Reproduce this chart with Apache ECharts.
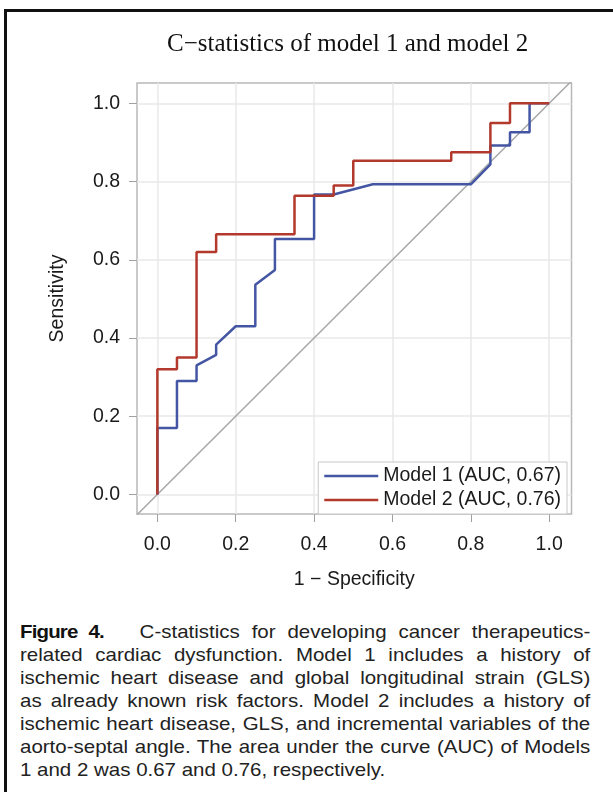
<!DOCTYPE html>
<html>
<head>
<meta charset="utf-8">
<script src="https://cdn.jsdelivr.net/npm/echarts@6/dist/echarts.min.js"></script>
<style>
  html, body { margin: 0; padding: 0; background: #fff; }
  #wrap { position: relative; width: 613px; height: 792px; overflow: hidden; }
  #chart { position: absolute; left: 0; top: 0; width: 613px; height: 600px; }
  /* 外框 */
  #frame { position: absolute; left: 4px; top: 9px; width: 640px; height: 820px;
           border-left: 3px solid #111; border-top: 3px solid #111; }
  #caption { position: absolute; left: 20px; top: 620px; width: 529px;
             transform: scaleX(1.078); transform-origin: 0 0;
             font-family: "Liberation Sans", Arial, sans-serif; font-weight: normal;
             font-size: 19px; line-height: 23px; color: #222; }
  #caption div { text-align: justify; text-align-last: justify; white-space: nowrap; }
  #caption div.last { text-align-last: left; }
  #caption b { font-weight: 700; letter-spacing: -0.8px; color: #111; }
</style>
</head>
<body>
<div id="wrap">
  <div id="frame"></div>
  <div id="chart"></div>
  <div id="caption">
    <div><b>Figure 4.</b>&nbsp;&nbsp; C-statistics for developing cancer therapeutics-</div>
    <div>related cardiac dysfunction. Model 1 includes a history of</div>
    <div>ischemic heart disease and global longitudinal strain (GLS)</div>
    <div>as already known risk factors. Model 2 includes a history of</div>
    <div>ischemic heart disease, GLS, and incremental variables of the</div>
    <div>aorto-septal angle. The area under the curve (AUC) of Models</div>
    <div class="last">1 and 2 was 0.67 and 0.76, respectively.</div>
  </div>
</div>
<script>
"use strict";

// 刻度
let tickValues = [0, 0.2, 0.4, 0.6, 0.8, 1.0];

// Model 1 (1 - 特异度, 灵敏度)
let model1Fpr = [0, 0, 0.05, 0.05, 0.1, 0.1, 0.15, 0.15, 0.2, 0.25, 0.25, 0.3, 0.3, 0.4, 0.4, 0.45, 0.55, 0.8, 0.85, 0.85, 0.9, 0.9, 0.95, 0.95, 1.0];
let model1Tpr = [0, 0.17, 0.17, 0.29, 0.29, 0.33, 0.357, 0.383, 0.43, 0.43, 0.536, 0.574, 0.653, 0.653, 0.767, 0.767, 0.793, 0.793, 0.844, 0.892, 0.892, 0.926, 0.926, 1.0, 1.0];

// Model 2
let model2Fpr = [0, 0, 0.05, 0.05, 0.1, 0.1, 0.15, 0.15, 0.35, 0.35, 0.45, 0.45, 0.5, 0.5, 0.75, 0.75, 0.85, 0.85, 0.9, 0.9, 1.0];
let model2Tpr = [0, 0.32, 0.32, 0.35, 0.35, 0.62, 0.62, 0.665, 0.665, 0.764, 0.764, 0.79, 0.79, 0.853, 0.853, 0.875, 0.875, 0.95, 0.95, 1.0, 1.0];

// 参考线 (对角线)
let diagX = [-0.052, 1.057];
let diagY = [-0.052, 1.057];

function zip(xs, ys) {
    return xs.map(function (x, i) { return [x, ys[i]]; });
}

let myChart = echarts.init(document.getElementById('chart'));

let labelFont = {
    fontFamily: 'Liberation Sans, Arial, sans-serif',
    fontSize: 19.5,
    color: '#1a1a1a',
};

let option = {
    animation: false,
    title: {
        text: 'C\u2212statistics of model 1 and model 2',
        left: 162,
        top: 27,
        textStyle: {
            fontFamily: 'Liberation Serif, Times New Roman, serif',
            fontWeight: 'normal',
            fontSize: 25,
            color: '#111',
        },
    },
    legend: {
        data: ['Model 1 (AUC, 0.67)', 'Model 2 (AUC, 0.76)'],
        orient: 'vertical',
        right: 46,
        top: 462,
        padding: [4, 6, 4, 6],
        itemGap: 4,
        itemWidth: 54,
        itemHeight: 2.5,
        icon: 'rect',
        borderColor: '#c8c8c8',
        borderWidth: 1,
        backgroundColor: '#fff',
        textStyle: labelFont,
    },
    grid: {
        left: 137,
        top: 83,
        width: 434.5,
        height: 431,
        show: true,
        borderColor: '#b8b8b8',
        borderWidth: 1.5,
    },
    xAxis: {
        type: 'value',
        min: -0.052,
        max: 1.057,
        name: '1 \u2212 Specificity',
        nameLocation: 'middle',
        nameGap: 56,
        nameTextStyle: labelFont,
        axisLine: { show: false, onZero: false },
        axisTick: {
            show: true,
            length: 8,
            customValues: tickValues,
            lineStyle: { color: '#a0a0a0' },
        },
        axisLabel: Object.assign({
            margin: 21,
            customValues: tickValues,
            formatter: function (v) { return v.toFixed(1); },
        }, labelFont),
        splitLine: { show: true, lineStyle: { color: '#e8e8e8', width: 1.5 } },
    },
    yAxis: {
        type: 'value',
        min: -0.05,
        max: 1.052,
        name: 'Sensitivity',
        nameLocation: 'middle',
        nameGap: 69,
        nameTextStyle: labelFont,
        axisLine: { show: false, onZero: false },
        axisTick: {
            show: true,
            length: 8,
            customValues: tickValues,
            lineStyle: { color: '#a0a0a0' },
        },
        axisLabel: Object.assign({
            margin: 17,
            customValues: tickValues,
            formatter: function (v) { return v.toFixed(1); },
        }, labelFont),
        splitLine: { show: true, lineStyle: { color: '#e8e8e8', width: 1.5 } },
    },
    series: [
        {
            name: 'diag',
            type: 'line',
            data: zip(diagX, diagY),
            symbol: 'none',
            silent: true,
            lineStyle: { color: '#a9a9a9', width: 1.5 },
            z: 1,
        },
        {
            name: 'Model 1 (AUC, 0.67)',
            type: 'line',
            data: zip(model1Fpr, model1Tpr),
            symbol: 'none',
            itemStyle: { color: '#4456a3' },
            lineStyle: { color: '#4456a3', width: 2.5 },
            z: 2,
        },
        {
            name: 'Model 2 (AUC, 0.76)',
            type: 'line',
            data: zip(model2Fpr, model2Tpr),
            symbol: 'none',
            itemStyle: { color: '#b2392c' },
            lineStyle: { color: '#b2392c', width: 2.5 },
            z: 3,
        },
    ],
};

myChart.setOption(option);
</script>
</body>
</html>
